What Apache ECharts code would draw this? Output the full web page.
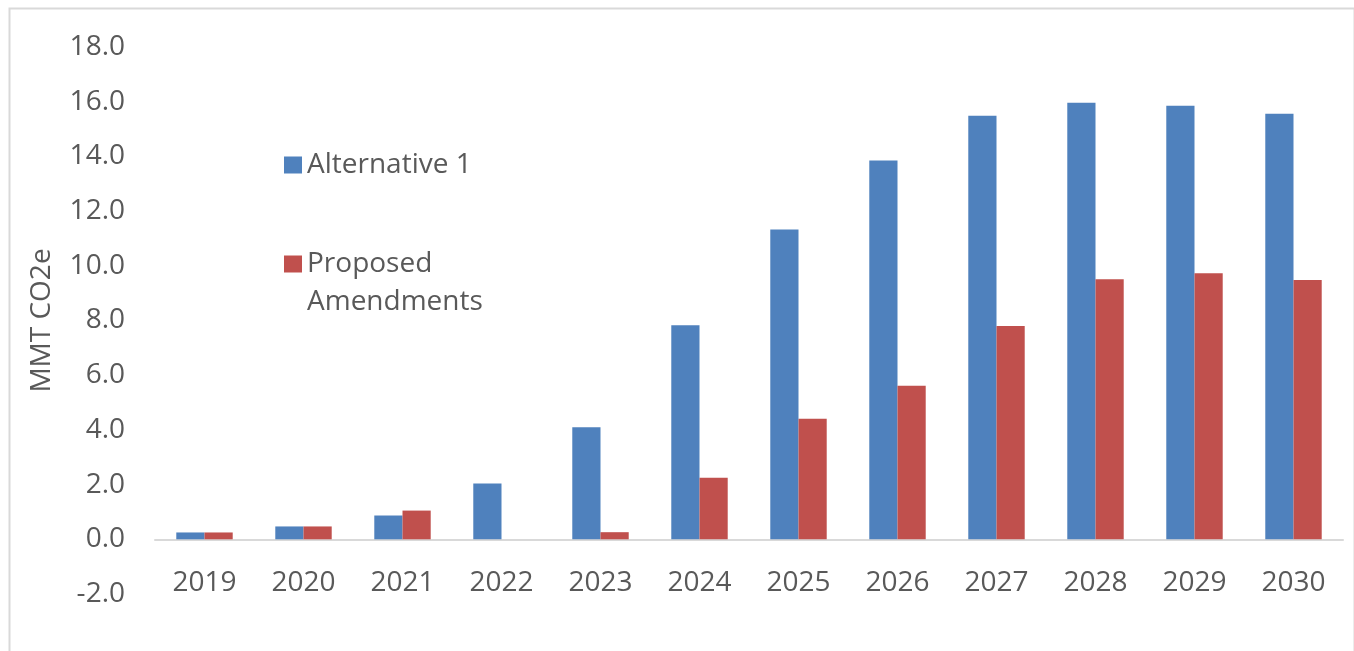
<!DOCTYPE html>
<html>
<head>
<meta charset="utf-8">
<script src="https://cdn.jsdelivr.net/npm/echarts@6/dist/echarts.min.js"></script>
<style>
  html, body { margin: 0; padding: 0; background: #fff; }
  #chart { width: 1354px; height: 651px; }
</style>
</head>
<body>
<div id="chart"></div>
<script>
// Annual values, MMT CO2e
const years = ['2019', '2020', '2021', '2022', '2023', '2024', '2025', '2026', '2027', '2028', '2029', '2030'];
const alternative1 = [0.25, 0.47, 0.87, 2.04, 4.10, 7.83, 11.33, 13.85, 15.49, 15.96, 15.85, 15.56];
const proposedAmendments = [0.25, 0.47, 1.05, 0, 0.26, 2.25, 4.41, 5.61, 7.80, 9.51, 9.73, 9.48];

const FONT = '"Open Sans", "Noto Sans", sans-serif';
const TEXT = '#595959';
const FS = 28;

const chart = echarts.init(document.getElementById('chart'));
chart.setOption({
  backgroundColor: '#ffffff',
  animation: false,
  textStyle: { fontFamily: FONT },
  graphic: [{
    type: 'rect',
    left: 7, top: 6,
    shape: { width: 1345, height: 700 },
    style: { fill: 'none', stroke: '#d9d9d9', lineWidth: 2 },
    silent: true,
    z: -1
  }],
  grid: { left: 155, right: 11, top: 47, bottom: 57, containLabel: false },
  legend: {
    orient: 'vertical',
    left: 284,
    top: 146,
    padding: 0,
    itemWidth: 18,
    itemHeight: 17,
    itemGap: 23,
    icon: 'rect',
    textStyle: { fontFamily: FONT, fontSize: FS, color: TEXT, lineHeight: 38 },
    data: ['Alternative 1', 'Proposed Amendments'],
    // the second entry wraps onto two lines, with its square beside the first line
    formatter: function (name) {
      return name === 'Proposed Amendments' ? ' \nProposed\nAmendments' : name;
    }
  },
  xAxis: {
    type: 'category',
    data: years,
    axisLine: { onZero: true, lineStyle: { color: '#d9d9d9', width: 2 } },
    axisTick: { show: false },
    axisLabel: { fontFamily: FONT, fontSize: FS, color: TEXT, margin: -25 }
  },
  yAxis: {
    type: 'value',
    min: -2,
    max: 18,
    interval: 2,
    name: 'MMT CO2e',
    nameLocation: 'middle',
    nameGap: 99,
    nameRotate: 90,
    nameTextStyle: { fontFamily: FONT, fontSize: FS, color: TEXT },
    axisLine: { show: false },
    axisTick: { show: false },
    splitLine: { show: false },
    axisLabel: {
      fontFamily: FONT, fontSize: FS, color: TEXT, margin: 30,
      formatter: function (v) { return v.toFixed(1); }
    }
  },
  series: [
    {
      name: 'Alternative 1',
      type: 'bar',
      data: alternative1,
      barGap: '0%',
      barCategoryGap: '43%',
      itemStyle: { color: '#4f81bd' }
    },
    {
      name: 'Proposed Amendments',
      type: 'bar',
      data: proposedAmendments,
      barGap: '0%',
      barCategoryGap: '43%',
      itemStyle: { color: '#c0504d' }
    }
  ]
});
</script>
</body>
</html>
